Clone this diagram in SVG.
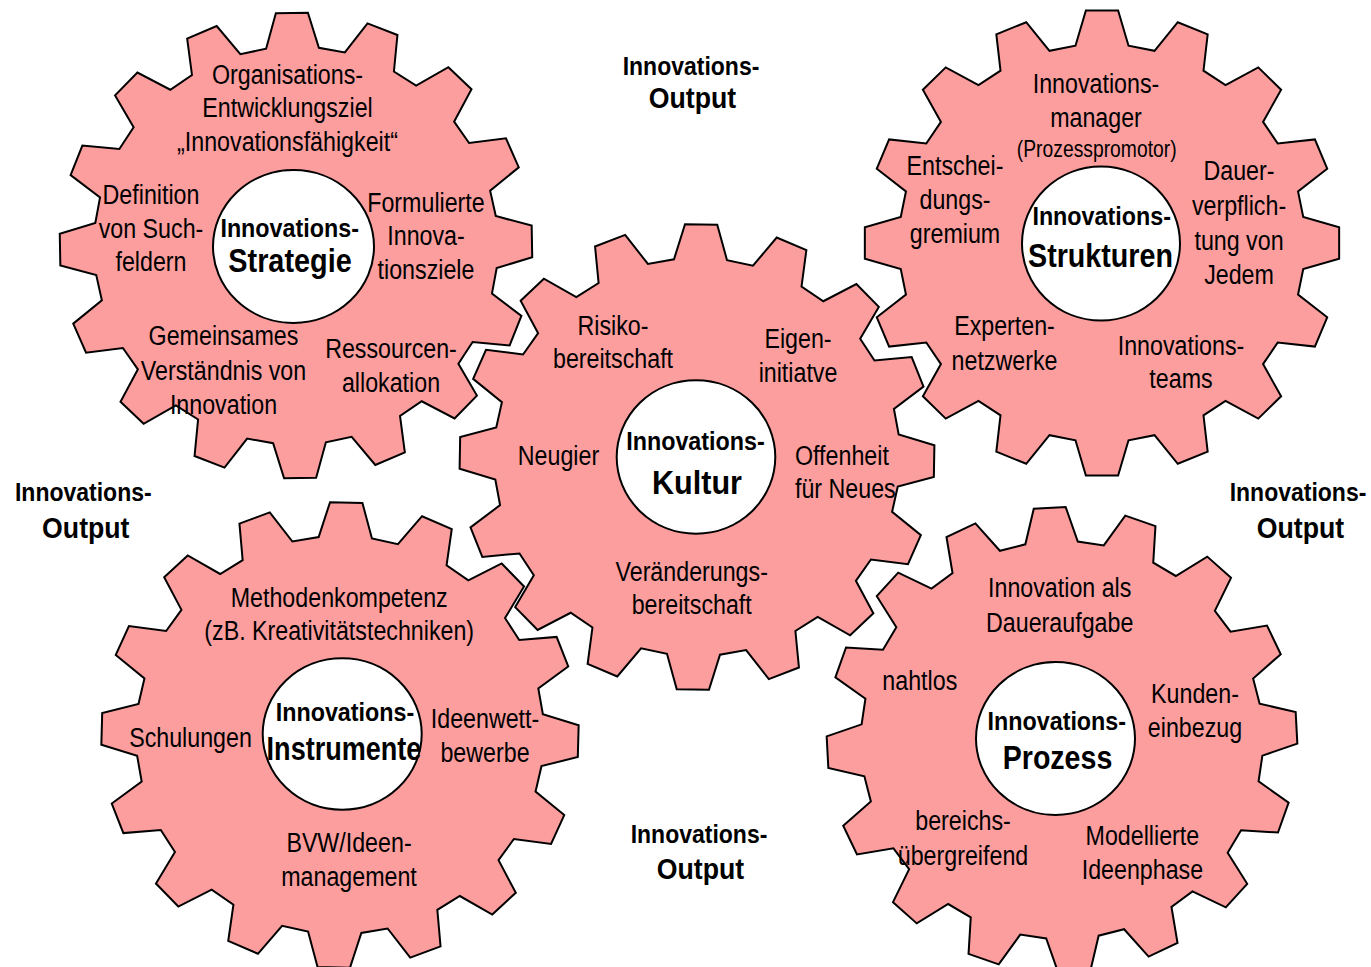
<svg xmlns="http://www.w3.org/2000/svg" width="1371" height="967" viewBox="0 0 1371 967">
<style>
.gear{fill:#FC9E9E;stroke:#000;stroke-width:2;stroke-linejoin:miter}
.hub{fill:#fff;stroke:#000;stroke-width:2}
.t{font-family:"Liberation Sans",Arial,sans-serif;font-size:28px;fill:#000;text-anchor:middle}
.s{font-size:23px}
.b{font-weight:bold;font-size:26.5px}
.big{font-weight:bold;font-size:33.5px}
.o1{font-weight:bold;font-size:25px}
.o2{font-weight:bold;font-size:29px}
.st{text-anchor:start}
</style>
<defs>
<path id="gearShape" vector-effect="non-scaling-stroke" d="M232.5,-15.8 L232.5,15.8 197.3,26 192.2,51.5 220.8,74.3 208.7,103.6 172.3,99.5 157.9,121.1 175.6,153.2 153.2,175.6 121.1,157.9 99.5,172.3 103.6,208.7 74.3,220.8 51.5,192.2 26,197.3 15.8,232.5 -15.8,232.5 -26,197.3 -51.5,192.2 -74.3,220.8 -103.6,208.7 -99.5,172.3 -121.1,157.9 -153.2,175.6 -175.6,153.2 -157.9,121.1 -172.3,99.5 -208.7,103.6 -220.8,74.3 -192.2,51.5 -197.3,26 -232.5,15.8 -232.5,-15.8 -197.3,-26 -192.2,-51.5 -220.8,-74.3 -208.7,-103.6 -172.3,-99.5 -157.9,-121.1 -175.6,-153.2 -153.2,-175.6 -121.1,-157.9 -99.5,-172.3 -103.6,-208.7 -74.3,-220.8 -51.5,-192.2 -26,-197.3 -15.8,-232.5 15.8,-232.5 26,-197.3 51.5,-192.2 74.3,-220.8 103.6,-208.7 99.5,-172.3 121.1,-157.9 153.2,-175.6 175.6,-153.2 157.9,-121.1 172.3,-99.5 208.7,-103.6 220.8,-74.3 192.2,-51.5 197.3,-26 Z"/>
</defs>
<rect width="1371" height="967" fill="#fff"/>

<g id="gear-strategie">
<use href="#gearShape" class="gear" transform="translate(296 245.5) scale(1.015 1) rotate(-1)"/>
<ellipse class="hub" cx="293.5" cy="246.5" rx="80.5" ry="76.5"/>
<text class="t" transform="matrix(.83 0 0 1 287.5 83.5)"><tspan x="0">Organisations-</tspan><tspan x="0" dy="33.5">Entwicklungsziel</tspan><tspan x="0" dy="34">„Innovationsfähigkeit“</tspan></text>
<text class="t" transform="matrix(.83 0 0 1 151 204)"><tspan x="0">Definition</tspan><tspan x="0" dy="34">von Such-</tspan><tspan x="0" dy="33.5">feldern</tspan></text>
<text class="t" transform="matrix(.83 0 0 1 426 211.7)"><tspan x="0">Formulierte</tspan><tspan x="0" dy="33.5">Innova-</tspan><tspan x="0" dy="34">tionsziele</tspan></text>
<text class="t" transform="matrix(.83 0 0 1 223.5 345)"><tspan x="0">Gemeinsames</tspan><tspan x="0" dy="35">Verständnis von</tspan><tspan x="0" dy="34">Innovation</tspan></text>
<text class="t" transform="matrix(.83 0 0 1 391 358.3)"><tspan x="0">Ressourcen-</tspan><tspan x="0" dy="33.5">allokation</tspan></text>
<text class="t b" transform="matrix(.88 0 0 1 289.7 237.3)">Innovations-</text>
<text class="t big" transform="matrix(.861 0 0 1 290 271.7)">Strategie</text>
</g>

<g id="gear-strukturen">
<use href="#gearShape" class="gear" transform="translate(1102 243) scale(1.02 1)"/>
<ellipse class="hub" cx="1101" cy="243.5" rx="79" ry="77"/>
<text class="t" transform="matrix(.83 0 0 1 1096 93.3)"><tspan x="0">Innovations-</tspan><tspan x="0" dy="33.4">manager</tspan></text>
<text class="t s" transform="matrix(.84 0 0 1 1096.7 157.3)">(Prozesspromotor)</text>
<text class="t" transform="matrix(.83 0 0 1 955 175)"><tspan x="0">Entschei-</tspan><tspan x="0" dy="34">dungs-</tspan><tspan x="0" dy="34">gremium</tspan></text>
<text class="t" transform="matrix(.83 0 0 1 1239 180)"><tspan x="0">Dauer-</tspan><tspan x="0" dy="35">verpflich-</tspan><tspan x="0" dy="35">tung von</tspan><tspan x="0" dy="34">Jedem</tspan></text>
<text class="t b" transform="matrix(.88 0 0 1 1101.7 225)">Innovations-</text>
<text class="t big" transform="matrix(.856 0 0 1 1100.5 266.7)">Strukturen</text>
<text class="t" transform="matrix(.83 0 0 1 1004.5 335)"><tspan x="0">Experten-</tspan><tspan x="0" dy="35">netzwerke</tspan></text>
<text class="t" transform="matrix(.83 0 0 1 1181 355)"><tspan x="0">Innovations-</tspan><tspan x="0" dy="33.5">teams</tspan></text>
</g>

<g id="gear-instrumente">
<use href="#gearShape" class="gear" transform="translate(340 735) scale(1.025 1) rotate(1.5)"/>
<ellipse class="hub" cx="342.2" cy="734" rx="79.5" ry="75.8"/>
<text class="t" transform="matrix(.83 0 0 1 339.2 606.7)"><tspan x="0">Methodenkompetenz</tspan><tspan x="0" dy="33.3">(zB. Kreativitätstechniken)</tspan></text>
<text class="t" transform="matrix(.83 0 0 1 190.5 746.7)">Schulungen</text>
<text class="t" transform="matrix(.83 0 0 1 485 728.3)"><tspan x="0">Ideenwett-</tspan><tspan x="0" dy="33.4">bewerbe</tspan></text>
<text class="t" transform="matrix(.83 0 0 1 349 851.7)"><tspan x="0">BVW/Ideen-</tspan><tspan x="0" dy="34.3">management</tspan></text>
<text class="t b" transform="matrix(.88 0 0 1 345 720.7)">Innovations-</text>
<text class="t big" transform="matrix(.808 0 0 1 344 760)">Instrumente</text>
</g>

<g id="gear-prozess">
<use href="#gearShape" class="gear" transform="translate(1062 740) scale(1.01 1) rotate(-3)"/>
<ellipse class="hub" cx="1055.5" cy="738.5" rx="79.5" ry="76.5"/>
<text class="t" transform="matrix(.83 0 0 1 1059.7 596.7)"><tspan x="0">Innovation als</tspan><tspan x="0" dy="35">Daueraufgabe</tspan></text>
<text class="t" transform="matrix(.83 0 0 1 919.8 690)">nahtlos</text>
<text class="t" transform="matrix(.83 0 0 1 1195 703.3)"><tspan x="0">Kunden-</tspan><tspan x="0" dy="34">einbezug</tspan></text>
<text class="t" transform="matrix(.83 0 0 1 963 830)"><tspan x="0">bereichs-</tspan><tspan x="0" dy="35">übergreifend</tspan></text>
<text class="t" transform="matrix(.83 0 0 1 1142.4 845)"><tspan x="0">Modellierte</tspan><tspan x="0" dy="34.3">Ideenphase</tspan></text>
<text class="t b" transform="matrix(.88 0 0 1 1056.8 730)">Innovations-</text>
<text class="t big" transform="matrix(.853 0 0 1 1057.5 769.3)">Prozess</text>
</g>

<g id="gear-kultur">
<use href="#gearShape" class="gear" transform="translate(697 457) scale(1.02 1) rotate(1)"/>
<ellipse class="hub" cx="696" cy="457" rx="79.3" ry="76.7"/>
<text class="t" transform="matrix(.83 0 0 1 613 335)"><tspan x="0">Risiko-</tspan><tspan x="0" dy="33.5">bereitschaft</tspan></text>
<text class="t" transform="matrix(.83 0 0 1 798 348.3)"><tspan x="0">Eigen-</tspan><tspan x="0" dy="33.4">initiatve</tspan></text>
<text class="t" transform="matrix(.83 0 0 1 558.5 465)">Neugier</text>
<text class="t st" transform="matrix(.83 0 0 1 795 465)"><tspan x="0">Offenheit</tspan><tspan x="0" dy="33.5">für Neues</tspan></text>
<text class="t" transform="matrix(.83 0 0 1 691.7 580.7)"><tspan x="0">Veränderungs-</tspan><tspan x="0" dy="33.3">bereitschaft</tspan></text>
<text class="t b" transform="matrix(.88 0 0 1 695.5 450)">Innovations-</text>
<text class="t big" transform="matrix(.912 0 0 1 697 494)">Kultur</text>
</g>

<g id="output-top">
<text class="t o1" transform="matrix(.92 0 0 1 691 75)">Innovations-</text>
<text class="t o2" transform="matrix(.92 0 0 1 692.5 108)">Output</text>
</g>
<g id="output-left">
<text class="t o1" transform="matrix(.92 0 0 1 83.3 501)">Innovations-</text>
<text class="t o2" transform="matrix(.92 0 0 1 85.8 538)">Output</text>
</g>
<g id="output-right">
<text class="t o1" transform="matrix(.92 0 0 1 1298 501)">Innovations-</text>
<text class="t o2" transform="matrix(.92 0 0 1 1300.5 538)">Output</text>
</g>
<g id="output-bottom">
<text class="t o1" transform="matrix(.92 0 0 1 699 843)">Innovations-</text>
<text class="t o2" transform="matrix(.92 0 0 1 700.5 879)">Output</text>
</g>
<g id="connectors"/>
</svg>
